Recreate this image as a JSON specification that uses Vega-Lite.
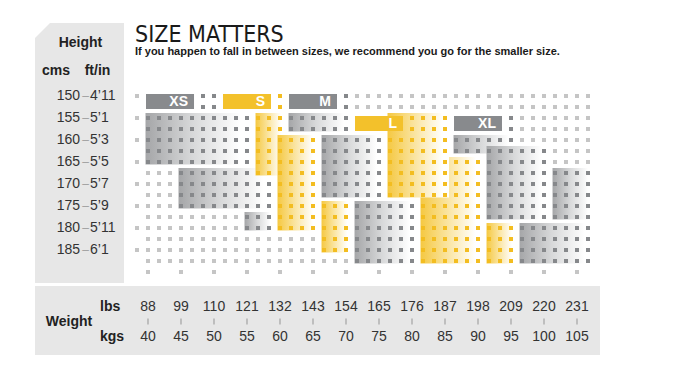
{
"$schema": "https://vega.github.io/schema/vega-lite/v6.json",
"width": 699, "height": 389,
"autosize": {"type": "fit", "contains": "padding"},
"padding": 0,
"background": "#ffffff",
"config": {"view": {"stroke": null}, "font": "Liberation Sans"},
"resolve": {"scale": {"color": "independent"}},
"datasets": {
"one": [{"k": 1}],
"regions": [
{"s":"XS","t":"g","w":40,"w2":55,"h":155,"h2":165},
{"s":"XS","t":"g","w":45,"w2":58.33,"h":167.5,"h2":175},
{"s":"XS","t":"g","w":55,"w2":58.33,"h":177.5,"h2":180},
{"s":"M","t":"g","w":61.67,"w2":70,"h":155,"h2":157.5},
{"s":"M","t":"g","w":66.67,"w2":75,"h":160,"h2":172.5},
{"s":"M","t":"g","w":71.67,"w2":80,"h":175,"h2":187.5},
{"s":"XL","t":"g","w":86.67,"w2":95,"h":160,"h2":162.5},
{"s":"XL","t":"g","w":91.67,"w2":100,"h":162.5,"h2":177.5},
{"s":"XL","t":"g","w":101.67,"w2":106.67,"h":167.5,"h2":177.5},
{"s":"XL","t":"g","w":96.67,"w2":106.67,"h":180,"h2":187.5},
{"s":"L","t":"y","w":81.67,"w2":90,"h":165,"h2":187.5},
{"s":"S","t":"y","w":56.67,"w2":60,"h":155,"h2":167.5},
{"s":"S","t":"y","w":60,"w2":65,"h":160,"h2":180},
{"s":"S","t":"y","w":66.67,"w2":70,"h":175,"h2":185},
{"s":"L","t":"y","w":76.67,"w2":85,"h":155,"h2":172.5},
{"s":"L","t":"y","w":91.67,"w2":95,"h":180,"h2":187.5}
],
"bars": [
{"s":"XS","t":"g","w":40,"w2":46.67,"h":150,"h2":152.5},
{"s":"S","t":"y","w":51.67,"w2":58.33,"h":150,"h2":152.5},
{"s":"M","t":"g","w":61.67,"w2":68.33,"h":150,"h2":152.5},
{"s":"L","t":"y","w":71.67,"w2":78.33,"h":155,"h2":157.5},
{"s":"XL","t":"g","w":86.67,"w2":93.33,"h":155,"h2":157.5}
],
"heights": [
{"h":150,"ft":"4’11"},{"h":155,"ft":"5’1"},{"h":160,"ft":"5’3"},{"h":165,"ft":"5’5"},
{"h":170,"ft":"5’7"},{"h":175,"ft":"5’9"},{"h":180,"ft":"5’11"},{"h":185,"ft":"6’1"}
],
"weights": [
{"w":40,"lbs":88},{"w":45,"lbs":99},{"w":50,"lbs":110},{"w":55,"lbs":121},{"w":60,"lbs":132},
{"w":65,"lbs":143},{"w":70,"lbs":154},{"w":75,"lbs":165},{"w":80,"lbs":176},{"w":85,"lbs":187},
{"w":90,"lbs":198},{"w":95,"lbs":209},{"w":100,"lbs":220},{"w":105,"lbs":231}
],
"dots": [
{"w":40,"h":150,"s":"XS"},{"w":41.67,"h":150,"s":"XS"},{"w":43.33,"h":150,"s":"XS"},{"w":45,"h":150,"s":"XS"},{"w":46.67,"h":150,"s":"XS"},{"w":48.33,"h":150,"s":"XS"},{"w":50,"h":150,"s":"XS"},
{"w":51.67,"h":150,"s":"S"},{"w":53.33,"h":150,"s":"S"},{"w":55,"h":150,"s":"S"},{"w":56.67,"h":150,"s":"S"},{"w":58.33,"h":150,"s":"S"},{"w":60,"h":150,"s":"S"},
{"w":61.67,"h":150,"s":"M"},{"w":63.33,"h":150,"s":"M"},{"w":65,"h":150,"s":"M"},{"w":66.67,"h":150,"s":"M"},{"w":68.33,"h":150,"s":"M"},{"w":70,"h":150,"s":"M"},
{"w":71.67,"h":150,"s":"-"},{"w":73.33,"h":150,"s":"-"},{"w":75,"h":150,"s":"-"},{"w":76.67,"h":150,"s":"-"},{"w":78.33,"h":150,"s":"-"},{"w":80,"h":150,"s":"-"},{"w":81.67,"h":150,"s":"-"},{"w":83.33,"h":150,"s":"-"},{"w":85,"h":150,"s":"-"},{"w":86.67,"h":150,"s":"-"},{"w":88.33,"h":150,"s":"-"},{"w":90,"h":150,"s":"-"},{"w":91.67,"h":150,"s":"-"},{"w":93.33,"h":150,"s":"-"},{"w":95,"h":150,"s":"-"},{"w":96.67,"h":150,"s":"-"},{"w":98.33,"h":150,"s":"-"},{"w":100,"h":150,"s":"-"},{"w":101.67,"h":150,"s":"-"},{"w":103.33,"h":150,"s":"-"},{"w":105,"h":150,"s":"-"},{"w":106.67,"h":150,"s":"-"},
{"w":40,"h":152.5,"s":"XS"},{"w":41.67,"h":152.5,"s":"XS"},{"w":43.33,"h":152.5,"s":"XS"},{"w":45,"h":152.5,"s":"XS"},{"w":46.67,"h":152.5,"s":"XS"},{"w":48.33,"h":152.5,"s":"XS"},{"w":50,"h":152.5,"s":"XS"},
{"w":51.67,"h":152.5,"s":"S"},{"w":53.33,"h":152.5,"s":"S"},{"w":55,"h":152.5,"s":"S"},{"w":56.67,"h":152.5,"s":"S"},{"w":58.33,"h":152.5,"s":"S"},{"w":60,"h":152.5,"s":"S"},
{"w":61.67,"h":152.5,"s":"M"},{"w":63.33,"h":152.5,"s":"M"},{"w":65,"h":152.5,"s":"M"},{"w":66.67,"h":152.5,"s":"M"},{"w":68.33,"h":152.5,"s":"M"},{"w":70,"h":152.5,"s":"M"},
{"w":71.67,"h":152.5,"s":"-"},{"w":73.33,"h":152.5,"s":"-"},{"w":75,"h":152.5,"s":"-"},{"w":76.67,"h":152.5,"s":"-"},{"w":78.33,"h":152.5,"s":"-"},{"w":80,"h":152.5,"s":"-"},{"w":81.67,"h":152.5,"s":"-"},{"w":83.33,"h":152.5,"s":"-"},{"w":85,"h":152.5,"s":"-"},{"w":86.67,"h":152.5,"s":"-"},{"w":88.33,"h":152.5,"s":"-"},{"w":90,"h":152.5,"s":"-"},{"w":91.67,"h":152.5,"s":"-"},{"w":93.33,"h":152.5,"s":"-"},{"w":95,"h":152.5,"s":"-"},{"w":96.67,"h":152.5,"s":"-"},{"w":98.33,"h":152.5,"s":"-"},{"w":100,"h":152.5,"s":"-"},{"w":101.67,"h":152.5,"s":"-"},{"w":103.33,"h":152.5,"s":"-"},{"w":105,"h":152.5,"s":"-"},{"w":106.67,"h":152.5,"s":"-"},
{"w":40,"h":155,"s":"XS"},{"w":41.67,"h":155,"s":"XS"},{"w":43.33,"h":155,"s":"XS"},{"w":45,"h":155,"s":"XS"},{"w":46.67,"h":155,"s":"XS"},{"w":48.33,"h":155,"s":"XS"},{"w":50,"h":155,"s":"XS"},{"w":51.67,"h":155,"s":"XS"},{"w":53.33,"h":155,"s":"XS"},{"w":55,"h":155,"s":"XS"},
{"w":56.67,"h":155,"s":"S"},{"w":58.33,"h":155,"s":"S"},{"w":60,"h":155,"s":"S"},
{"w":61.67,"h":155,"s":"M"},{"w":63.33,"h":155,"s":"M"},{"w":65,"h":155,"s":"M"},{"w":66.67,"h":155,"s":"M"},{"w":68.33,"h":155,"s":"M"},{"w":70,"h":155,"s":"M"},
{"w":71.67,"h":155,"s":"L"},{"w":73.33,"h":155,"s":"L"},{"w":75,"h":155,"s":"L"},{"w":76.67,"h":155,"s":"L"},{"w":78.33,"h":155,"s":"L"},{"w":80,"h":155,"s":"L"},{"w":81.67,"h":155,"s":"L"},{"w":83.33,"h":155,"s":"L"},{"w":85,"h":155,"s":"L"},
{"w":86.67,"h":155,"s":"XL"},{"w":88.33,"h":155,"s":"XL"},{"w":90,"h":155,"s":"XL"},{"w":91.67,"h":155,"s":"XL"},{"w":93.33,"h":155,"s":"XL"},{"w":95,"h":155,"s":"XL"},
{"w":96.67,"h":155,"s":"-"},{"w":98.33,"h":155,"s":"-"},{"w":100,"h":155,"s":"-"},{"w":101.67,"h":155,"s":"-"},{"w":103.33,"h":155,"s":"-"},{"w":105,"h":155,"s":"-"},{"w":106.67,"h":155,"s":"-"},
{"w":40,"h":157.5,"s":"XS"},{"w":41.67,"h":157.5,"s":"XS"},{"w":43.33,"h":157.5,"s":"XS"},{"w":45,"h":157.5,"s":"XS"},{"w":46.67,"h":157.5,"s":"XS"},{"w":48.33,"h":157.5,"s":"XS"},{"w":50,"h":157.5,"s":"XS"},{"w":51.67,"h":157.5,"s":"XS"},{"w":53.33,"h":157.5,"s":"XS"},{"w":55,"h":157.5,"s":"XS"},
{"w":56.67,"h":157.5,"s":"S"},{"w":58.33,"h":157.5,"s":"S"},{"w":60,"h":157.5,"s":"S"},
{"w":61.67,"h":157.5,"s":"M"},{"w":63.33,"h":157.5,"s":"M"},{"w":65,"h":157.5,"s":"M"},{"w":66.67,"h":157.5,"s":"M"},{"w":68.33,"h":157.5,"s":"M"},{"w":70,"h":157.5,"s":"M"},
{"w":71.67,"h":157.5,"s":"L"},{"w":73.33,"h":157.5,"s":"L"},{"w":75,"h":157.5,"s":"L"},{"w":76.67,"h":157.5,"s":"L"},{"w":78.33,"h":157.5,"s":"L"},{"w":80,"h":157.5,"s":"L"},{"w":81.67,"h":157.5,"s":"L"},{"w":83.33,"h":157.5,"s":"L"},{"w":85,"h":157.5,"s":"L"},
{"w":86.67,"h":157.5,"s":"XL"},{"w":88.33,"h":157.5,"s":"XL"},{"w":90,"h":157.5,"s":"XL"},{"w":91.67,"h":157.5,"s":"XL"},{"w":93.33,"h":157.5,"s":"XL"},{"w":95,"h":157.5,"s":"XL"},
{"w":96.67,"h":157.5,"s":"-"},{"w":98.33,"h":157.5,"s":"-"},{"w":100,"h":157.5,"s":"-"},{"w":101.67,"h":157.5,"s":"-"},{"w":103.33,"h":157.5,"s":"-"},{"w":105,"h":157.5,"s":"-"},{"w":106.67,"h":157.5,"s":"-"},
{"w":40,"h":160,"s":"XS"},{"w":41.67,"h":160,"s":"XS"},{"w":43.33,"h":160,"s":"XS"},{"w":45,"h":160,"s":"XS"},{"w":46.67,"h":160,"s":"XS"},{"w":48.33,"h":160,"s":"XS"},{"w":50,"h":160,"s":"XS"},{"w":51.67,"h":160,"s":"XS"},{"w":53.33,"h":160,"s":"XS"},{"w":55,"h":160,"s":"XS"},
{"w":56.67,"h":160,"s":"S"},{"w":58.33,"h":160,"s":"S"},{"w":60,"h":160,"s":"S"},{"w":61.67,"h":160,"s":"S"},{"w":63.33,"h":160,"s":"S"},{"w":65,"h":160,"s":"S"},
{"w":66.67,"h":160,"s":"M"},{"w":68.33,"h":160,"s":"M"},{"w":70,"h":160,"s":"M"},{"w":71.67,"h":160,"s":"M"},{"w":73.33,"h":160,"s":"M"},{"w":75,"h":160,"s":"M"},
{"w":76.67,"h":160,"s":"L"},{"w":78.33,"h":160,"s":"L"},{"w":80,"h":160,"s":"L"},{"w":81.67,"h":160,"s":"L"},{"w":83.33,"h":160,"s":"L"},{"w":85,"h":160,"s":"L"},
{"w":86.67,"h":160,"s":"XL"},{"w":88.33,"h":160,"s":"XL"},{"w":90,"h":160,"s":"XL"},{"w":91.67,"h":160,"s":"XL"},{"w":93.33,"h":160,"s":"XL"},{"w":95,"h":160,"s":"XL"},
{"w":96.67,"h":160,"s":"-"},{"w":98.33,"h":160,"s":"-"},{"w":100,"h":160,"s":"-"},{"w":101.67,"h":160,"s":"-"},{"w":103.33,"h":160,"s":"-"},{"w":105,"h":160,"s":"-"},{"w":106.67,"h":160,"s":"-"},
{"w":40,"h":162.5,"s":"XS"},{"w":41.67,"h":162.5,"s":"XS"},{"w":43.33,"h":162.5,"s":"XS"},{"w":45,"h":162.5,"s":"XS"},{"w":46.67,"h":162.5,"s":"XS"},{"w":48.33,"h":162.5,"s":"XS"},{"w":50,"h":162.5,"s":"XS"},{"w":51.67,"h":162.5,"s":"XS"},{"w":53.33,"h":162.5,"s":"XS"},{"w":55,"h":162.5,"s":"XS"},
{"w":56.67,"h":162.5,"s":"S"},{"w":58.33,"h":162.5,"s":"S"},{"w":60,"h":162.5,"s":"S"},{"w":61.67,"h":162.5,"s":"S"},{"w":63.33,"h":162.5,"s":"S"},{"w":65,"h":162.5,"s":"S"},
{"w":66.67,"h":162.5,"s":"M"},{"w":68.33,"h":162.5,"s":"M"},{"w":70,"h":162.5,"s":"M"},{"w":71.67,"h":162.5,"s":"M"},{"w":73.33,"h":162.5,"s":"M"},{"w":75,"h":162.5,"s":"M"},
{"w":76.67,"h":162.5,"s":"L"},{"w":78.33,"h":162.5,"s":"L"},{"w":80,"h":162.5,"s":"L"},{"w":81.67,"h":162.5,"s":"L"},{"w":83.33,"h":162.5,"s":"L"},{"w":85,"h":162.5,"s":"L"},
{"w":86.67,"h":162.5,"s":"XL"},{"w":88.33,"h":162.5,"s":"XL"},{"w":90,"h":162.5,"s":"XL"},{"w":91.67,"h":162.5,"s":"XL"},{"w":93.33,"h":162.5,"s":"XL"},{"w":95,"h":162.5,"s":"XL"},{"w":96.67,"h":162.5,"s":"XL"},{"w":98.33,"h":162.5,"s":"XL"},{"w":100,"h":162.5,"s":"XL"},
{"w":101.67,"h":162.5,"s":"-"},{"w":103.33,"h":162.5,"s":"-"},{"w":105,"h":162.5,"s":"-"},{"w":106.67,"h":162.5,"s":"-"},
{"w":40,"h":165,"s":"XS"},{"w":41.67,"h":165,"s":"XS"},{"w":43.33,"h":165,"s":"XS"},{"w":45,"h":165,"s":"XS"},{"w":46.67,"h":165,"s":"XS"},{"w":48.33,"h":165,"s":"XS"},{"w":50,"h":165,"s":"XS"},{"w":51.67,"h":165,"s":"XS"},{"w":53.33,"h":165,"s":"XS"},{"w":55,"h":165,"s":"XS"},
{"w":56.67,"h":165,"s":"S"},{"w":58.33,"h":165,"s":"S"},{"w":60,"h":165,"s":"S"},{"w":61.67,"h":165,"s":"S"},{"w":63.33,"h":165,"s":"S"},{"w":65,"h":165,"s":"S"},
{"w":66.67,"h":165,"s":"M"},{"w":68.33,"h":165,"s":"M"},{"w":70,"h":165,"s":"M"},{"w":71.67,"h":165,"s":"M"},{"w":73.33,"h":165,"s":"M"},{"w":75,"h":165,"s":"M"},
{"w":76.67,"h":165,"s":"L"},{"w":78.33,"h":165,"s":"L"},{"w":80,"h":165,"s":"L"},{"w":81.67,"h":165,"s":"L"},{"w":83.33,"h":165,"s":"L"},{"w":85,"h":165,"s":"L"},{"w":86.67,"h":165,"s":"L"},{"w":88.33,"h":165,"s":"L"},{"w":90,"h":165,"s":"L"},
{"w":91.67,"h":165,"s":"XL"},{"w":93.33,"h":165,"s":"XL"},{"w":95,"h":165,"s":"XL"},{"w":96.67,"h":165,"s":"XL"},{"w":98.33,"h":165,"s":"XL"},{"w":100,"h":165,"s":"XL"},
{"w":101.67,"h":165,"s":"-"},{"w":103.33,"h":165,"s":"-"},{"w":105,"h":165,"s":"-"},{"w":106.67,"h":165,"s":"-"},
{"w":40,"h":167.5,"s":"-"},{"w":41.67,"h":167.5,"s":"-"},{"w":43.33,"h":167.5,"s":"-"},
{"w":45,"h":167.5,"s":"XS"},{"w":46.67,"h":167.5,"s":"XS"},{"w":48.33,"h":167.5,"s":"XS"},{"w":50,"h":167.5,"s":"XS"},{"w":51.67,"h":167.5,"s":"XS"},{"w":53.33,"h":167.5,"s":"XS"},{"w":55,"h":167.5,"s":"XS"},
{"w":56.67,"h":167.5,"s":"S"},{"w":58.33,"h":167.5,"s":"S"},{"w":60,"h":167.5,"s":"S"},{"w":61.67,"h":167.5,"s":"S"},{"w":63.33,"h":167.5,"s":"S"},{"w":65,"h":167.5,"s":"S"},
{"w":66.67,"h":167.5,"s":"M"},{"w":68.33,"h":167.5,"s":"M"},{"w":70,"h":167.5,"s":"M"},{"w":71.67,"h":167.5,"s":"M"},{"w":73.33,"h":167.5,"s":"M"},{"w":75,"h":167.5,"s":"M"},
{"w":76.67,"h":167.5,"s":"L"},{"w":78.33,"h":167.5,"s":"L"},{"w":80,"h":167.5,"s":"L"},{"w":81.67,"h":167.5,"s":"L"},{"w":83.33,"h":167.5,"s":"L"},{"w":85,"h":167.5,"s":"L"},{"w":86.67,"h":167.5,"s":"L"},{"w":88.33,"h":167.5,"s":"L"},{"w":90,"h":167.5,"s":"L"},
{"w":91.67,"h":167.5,"s":"XL"},{"w":93.33,"h":167.5,"s":"XL"},{"w":95,"h":167.5,"s":"XL"},{"w":96.67,"h":167.5,"s":"XL"},{"w":98.33,"h":167.5,"s":"XL"},{"w":100,"h":167.5,"s":"XL"},{"w":101.67,"h":167.5,"s":"XL"},{"w":103.33,"h":167.5,"s":"XL"},{"w":105,"h":167.5,"s":"XL"},{"w":106.67,"h":167.5,"s":"XL"},
{"w":40,"h":170,"s":"-"},{"w":41.67,"h":170,"s":"-"},{"w":43.33,"h":170,"s":"-"},
{"w":45,"h":170,"s":"XS"},{"w":46.67,"h":170,"s":"XS"},{"w":48.33,"h":170,"s":"XS"},{"w":50,"h":170,"s":"XS"},{"w":51.67,"h":170,"s":"XS"},{"w":53.33,"h":170,"s":"XS"},{"w":55,"h":170,"s":"XS"},{"w":56.67,"h":170,"s":"XS"},{"w":58.33,"h":170,"s":"XS"},
{"w":60,"h":170,"s":"S"},{"w":61.67,"h":170,"s":"S"},{"w":63.33,"h":170,"s":"S"},{"w":65,"h":170,"s":"S"},
{"w":66.67,"h":170,"s":"M"},{"w":68.33,"h":170,"s":"M"},{"w":70,"h":170,"s":"M"},{"w":71.67,"h":170,"s":"M"},{"w":73.33,"h":170,"s":"M"},{"w":75,"h":170,"s":"M"},
{"w":76.67,"h":170,"s":"L"},{"w":78.33,"h":170,"s":"L"},{"w":80,"h":170,"s":"L"},{"w":81.67,"h":170,"s":"L"},{"w":83.33,"h":170,"s":"L"},{"w":85,"h":170,"s":"L"},{"w":86.67,"h":170,"s":"L"},{"w":88.33,"h":170,"s":"L"},{"w":90,"h":170,"s":"L"},
{"w":91.67,"h":170,"s":"XL"},{"w":93.33,"h":170,"s":"XL"},{"w":95,"h":170,"s":"XL"},{"w":96.67,"h":170,"s":"XL"},{"w":98.33,"h":170,"s":"XL"},{"w":100,"h":170,"s":"XL"},{"w":101.67,"h":170,"s":"XL"},{"w":103.33,"h":170,"s":"XL"},{"w":105,"h":170,"s":"XL"},{"w":106.67,"h":170,"s":"XL"},
{"w":40,"h":172.5,"s":"-"},{"w":41.67,"h":172.5,"s":"-"},{"w":43.33,"h":172.5,"s":"-"},
{"w":45,"h":172.5,"s":"XS"},{"w":46.67,"h":172.5,"s":"XS"},{"w":48.33,"h":172.5,"s":"XS"},{"w":50,"h":172.5,"s":"XS"},{"w":51.67,"h":172.5,"s":"XS"},{"w":53.33,"h":172.5,"s":"XS"},{"w":55,"h":172.5,"s":"XS"},{"w":56.67,"h":172.5,"s":"XS"},{"w":58.33,"h":172.5,"s":"XS"},
{"w":60,"h":172.5,"s":"S"},{"w":61.67,"h":172.5,"s":"S"},{"w":63.33,"h":172.5,"s":"S"},{"w":65,"h":172.5,"s":"S"},
{"w":66.67,"h":172.5,"s":"M"},{"w":68.33,"h":172.5,"s":"M"},{"w":70,"h":172.5,"s":"M"},{"w":71.67,"h":172.5,"s":"M"},{"w":73.33,"h":172.5,"s":"M"},{"w":75,"h":172.5,"s":"M"},
{"w":76.67,"h":172.5,"s":"L"},{"w":78.33,"h":172.5,"s":"L"},{"w":80,"h":172.5,"s":"L"},{"w":81.67,"h":172.5,"s":"L"},{"w":83.33,"h":172.5,"s":"L"},{"w":85,"h":172.5,"s":"L"},{"w":86.67,"h":172.5,"s":"L"},{"w":88.33,"h":172.5,"s":"L"},{"w":90,"h":172.5,"s":"L"},
{"w":91.67,"h":172.5,"s":"XL"},{"w":93.33,"h":172.5,"s":"XL"},{"w":95,"h":172.5,"s":"XL"},{"w":96.67,"h":172.5,"s":"XL"},{"w":98.33,"h":172.5,"s":"XL"},{"w":100,"h":172.5,"s":"XL"},{"w":101.67,"h":172.5,"s":"XL"},{"w":103.33,"h":172.5,"s":"XL"},{"w":105,"h":172.5,"s":"XL"},{"w":106.67,"h":172.5,"s":"XL"},
{"w":40,"h":175,"s":"-"},{"w":41.67,"h":175,"s":"-"},{"w":43.33,"h":175,"s":"-"},
{"w":45,"h":175,"s":"XS"},{"w":46.67,"h":175,"s":"XS"},{"w":48.33,"h":175,"s":"XS"},{"w":50,"h":175,"s":"XS"},{"w":51.67,"h":175,"s":"XS"},{"w":53.33,"h":175,"s":"XS"},{"w":55,"h":175,"s":"XS"},{"w":56.67,"h":175,"s":"XS"},{"w":58.33,"h":175,"s":"XS"},
{"w":60,"h":175,"s":"S"},{"w":61.67,"h":175,"s":"S"},{"w":63.33,"h":175,"s":"S"},{"w":65,"h":175,"s":"S"},{"w":66.67,"h":175,"s":"S"},{"w":68.33,"h":175,"s":"S"},{"w":70,"h":175,"s":"S"},
{"w":71.67,"h":175,"s":"M"},{"w":73.33,"h":175,"s":"M"},{"w":75,"h":175,"s":"M"},{"w":76.67,"h":175,"s":"M"},{"w":78.33,"h":175,"s":"M"},{"w":80,"h":175,"s":"M"},
{"w":81.67,"h":175,"s":"L"},{"w":83.33,"h":175,"s":"L"},{"w":85,"h":175,"s":"L"},{"w":86.67,"h":175,"s":"L"},{"w":88.33,"h":175,"s":"L"},{"w":90,"h":175,"s":"L"},
{"w":91.67,"h":175,"s":"XL"},{"w":93.33,"h":175,"s":"XL"},{"w":95,"h":175,"s":"XL"},{"w":96.67,"h":175,"s":"XL"},{"w":98.33,"h":175,"s":"XL"},{"w":100,"h":175,"s":"XL"},{"w":101.67,"h":175,"s":"XL"},{"w":103.33,"h":175,"s":"XL"},{"w":105,"h":175,"s":"XL"},{"w":106.67,"h":175,"s":"XL"},
{"w":40,"h":177.5,"s":"-"},{"w":41.67,"h":177.5,"s":"-"},{"w":43.33,"h":177.5,"s":"-"},{"w":45,"h":177.5,"s":"-"},{"w":46.67,"h":177.5,"s":"-"},{"w":48.33,"h":177.5,"s":"-"},{"w":50,"h":177.5,"s":"-"},{"w":51.67,"h":177.5,"s":"-"},{"w":53.33,"h":177.5,"s":"-"},
{"w":55,"h":177.5,"s":"XS"},{"w":56.67,"h":177.5,"s":"XS"},{"w":58.33,"h":177.5,"s":"XS"},
{"w":60,"h":177.5,"s":"S"},{"w":61.67,"h":177.5,"s":"S"},{"w":63.33,"h":177.5,"s":"S"},{"w":65,"h":177.5,"s":"S"},{"w":66.67,"h":177.5,"s":"S"},{"w":68.33,"h":177.5,"s":"S"},{"w":70,"h":177.5,"s":"S"},
{"w":71.67,"h":177.5,"s":"M"},{"w":73.33,"h":177.5,"s":"M"},{"w":75,"h":177.5,"s":"M"},{"w":76.67,"h":177.5,"s":"M"},{"w":78.33,"h":177.5,"s":"M"},{"w":80,"h":177.5,"s":"M"},
{"w":81.67,"h":177.5,"s":"L"},{"w":83.33,"h":177.5,"s":"L"},{"w":85,"h":177.5,"s":"L"},{"w":86.67,"h":177.5,"s":"L"},{"w":88.33,"h":177.5,"s":"L"},{"w":90,"h":177.5,"s":"L"},
{"w":91.67,"h":177.5,"s":"XL"},{"w":93.33,"h":177.5,"s":"XL"},{"w":95,"h":177.5,"s":"XL"},{"w":96.67,"h":177.5,"s":"XL"},{"w":98.33,"h":177.5,"s":"XL"},{"w":100,"h":177.5,"s":"XL"},{"w":101.67,"h":177.5,"s":"XL"},{"w":103.33,"h":177.5,"s":"XL"},{"w":105,"h":177.5,"s":"XL"},{"w":106.67,"h":177.5,"s":"XL"},
{"w":40,"h":180,"s":"-"},{"w":41.67,"h":180,"s":"-"},{"w":43.33,"h":180,"s":"-"},{"w":45,"h":180,"s":"-"},{"w":46.67,"h":180,"s":"-"},{"w":48.33,"h":180,"s":"-"},{"w":50,"h":180,"s":"-"},{"w":51.67,"h":180,"s":"-"},{"w":53.33,"h":180,"s":"-"},
{"w":55,"h":180,"s":"XS"},{"w":56.67,"h":180,"s":"XS"},{"w":58.33,"h":180,"s":"XS"},
{"w":60,"h":180,"s":"S"},{"w":61.67,"h":180,"s":"S"},{"w":63.33,"h":180,"s":"S"},{"w":65,"h":180,"s":"S"},{"w":66.67,"h":180,"s":"S"},{"w":68.33,"h":180,"s":"S"},{"w":70,"h":180,"s":"S"},
{"w":71.67,"h":180,"s":"M"},{"w":73.33,"h":180,"s":"M"},{"w":75,"h":180,"s":"M"},{"w":76.67,"h":180,"s":"M"},{"w":78.33,"h":180,"s":"M"},{"w":80,"h":180,"s":"M"},
{"w":81.67,"h":180,"s":"L"},{"w":83.33,"h":180,"s":"L"},{"w":85,"h":180,"s":"L"},{"w":86.67,"h":180,"s":"L"},{"w":88.33,"h":180,"s":"L"},{"w":90,"h":180,"s":"L"},{"w":91.67,"h":180,"s":"L"},{"w":93.33,"h":180,"s":"L"},{"w":95,"h":180,"s":"L"},
{"w":96.67,"h":180,"s":"XL"},{"w":98.33,"h":180,"s":"XL"},{"w":100,"h":180,"s":"XL"},{"w":101.67,"h":180,"s":"XL"},{"w":103.33,"h":180,"s":"XL"},{"w":105,"h":180,"s":"XL"},{"w":106.67,"h":180,"s":"XL"},
{"w":40,"h":182.5,"s":"-"},{"w":41.67,"h":182.5,"s":"-"},{"w":43.33,"h":182.5,"s":"-"},{"w":45,"h":182.5,"s":"-"},{"w":46.67,"h":182.5,"s":"-"},{"w":48.33,"h":182.5,"s":"-"},{"w":50,"h":182.5,"s":"-"},{"w":51.67,"h":182.5,"s":"-"},{"w":53.33,"h":182.5,"s":"-"},{"w":55,"h":182.5,"s":"-"},{"w":56.67,"h":182.5,"s":"-"},{"w":58.33,"h":182.5,"s":"-"},{"w":60,"h":182.5,"s":"-"},{"w":61.67,"h":182.5,"s":"-"},{"w":63.33,"h":182.5,"s":"-"},{"w":65,"h":182.5,"s":"-"},
{"w":66.67,"h":182.5,"s":"S"},{"w":68.33,"h":182.5,"s":"S"},{"w":70,"h":182.5,"s":"S"},
{"w":71.67,"h":182.5,"s":"M"},{"w":73.33,"h":182.5,"s":"M"},{"w":75,"h":182.5,"s":"M"},{"w":76.67,"h":182.5,"s":"M"},{"w":78.33,"h":182.5,"s":"M"},{"w":80,"h":182.5,"s":"M"},
{"w":81.67,"h":182.5,"s":"L"},{"w":83.33,"h":182.5,"s":"L"},{"w":85,"h":182.5,"s":"L"},{"w":86.67,"h":182.5,"s":"L"},{"w":88.33,"h":182.5,"s":"L"},{"w":90,"h":182.5,"s":"L"},{"w":91.67,"h":182.5,"s":"L"},{"w":93.33,"h":182.5,"s":"L"},{"w":95,"h":182.5,"s":"L"},
{"w":96.67,"h":182.5,"s":"XL"},{"w":98.33,"h":182.5,"s":"XL"},{"w":100,"h":182.5,"s":"XL"},{"w":101.67,"h":182.5,"s":"XL"},{"w":103.33,"h":182.5,"s":"XL"},{"w":105,"h":182.5,"s":"XL"},{"w":106.67,"h":182.5,"s":"XL"},
{"w":40,"h":185,"s":"-"},{"w":41.67,"h":185,"s":"-"},{"w":43.33,"h":185,"s":"-"},{"w":45,"h":185,"s":"-"},{"w":46.67,"h":185,"s":"-"},{"w":48.33,"h":185,"s":"-"},{"w":50,"h":185,"s":"-"},{"w":51.67,"h":185,"s":"-"},{"w":53.33,"h":185,"s":"-"},{"w":55,"h":185,"s":"-"},{"w":56.67,"h":185,"s":"-"},{"w":58.33,"h":185,"s":"-"},{"w":60,"h":185,"s":"-"},{"w":61.67,"h":185,"s":"-"},{"w":63.33,"h":185,"s":"-"},{"w":65,"h":185,"s":"-"},
{"w":66.67,"h":185,"s":"S"},{"w":68.33,"h":185,"s":"S"},{"w":70,"h":185,"s":"S"},
{"w":71.67,"h":185,"s":"M"},{"w":73.33,"h":185,"s":"M"},{"w":75,"h":185,"s":"M"},{"w":76.67,"h":185,"s":"M"},{"w":78.33,"h":185,"s":"M"},{"w":80,"h":185,"s":"M"},
{"w":81.67,"h":185,"s":"L"},{"w":83.33,"h":185,"s":"L"},{"w":85,"h":185,"s":"L"},{"w":86.67,"h":185,"s":"L"},{"w":88.33,"h":185,"s":"L"},{"w":90,"h":185,"s":"L"},{"w":91.67,"h":185,"s":"L"},{"w":93.33,"h":185,"s":"L"},{"w":95,"h":185,"s":"L"},
{"w":96.67,"h":185,"s":"XL"},{"w":98.33,"h":185,"s":"XL"},{"w":100,"h":185,"s":"XL"},{"w":101.67,"h":185,"s":"XL"},{"w":103.33,"h":185,"s":"XL"},{"w":105,"h":185,"s":"XL"},{"w":106.67,"h":185,"s":"XL"},
{"w":40,"h":187.5,"s":"-"},{"w":41.67,"h":187.5,"s":"-"},{"w":43.33,"h":187.5,"s":"-"},{"w":45,"h":187.5,"s":"-"},{"w":46.67,"h":187.5,"s":"-"},{"w":48.33,"h":187.5,"s":"-"},{"w":50,"h":187.5,"s":"-"},{"w":51.67,"h":187.5,"s":"-"},{"w":53.33,"h":187.5,"s":"-"},{"w":55,"h":187.5,"s":"-"},{"w":56.67,"h":187.5,"s":"-"},{"w":58.33,"h":187.5,"s":"-"},{"w":60,"h":187.5,"s":"-"},{"w":61.67,"h":187.5,"s":"-"},{"w":63.33,"h":187.5,"s":"-"},{"w":65,"h":187.5,"s":"-"},{"w":66.67,"h":187.5,"s":"-"},{"w":68.33,"h":187.5,"s":"-"},{"w":70,"h":187.5,"s":"-"},
{"w":71.67,"h":187.5,"s":"M"},{"w":73.33,"h":187.5,"s":"M"},{"w":75,"h":187.5,"s":"M"},{"w":76.67,"h":187.5,"s":"M"},{"w":78.33,"h":187.5,"s":"M"},{"w":80,"h":187.5,"s":"M"},
{"w":81.67,"h":187.5,"s":"L"},{"w":83.33,"h":187.5,"s":"L"},{"w":85,"h":187.5,"s":"L"},{"w":86.67,"h":187.5,"s":"L"},{"w":88.33,"h":187.5,"s":"L"},{"w":90,"h":187.5,"s":"L"},{"w":91.67,"h":187.5,"s":"L"},{"w":93.33,"h":187.5,"s":"L"},{"w":95,"h":187.5,"s":"L"},
{"w":96.67,"h":187.5,"s":"XL"},{"w":98.33,"h":187.5,"s":"XL"},{"w":100,"h":187.5,"s":"XL"},{"w":101.67,"h":187.5,"s":"XL"},{"w":103.33,"h":187.5,"s":"XL"},{"w":105,"h":187.5,"s":"XL"},{"w":106.67,"h":187.5,"s":"XL"},
{"w":38.33,"h":150,"s":"-"},{"w":38.33,"h":155,"s":"-"},{"w":38.33,"h":160,"s":"-"},{"w":38.33,"h":165,"s":"-"},{"w":38.33,"h":170,"s":"-"},{"w":38.33,"h":175,"s":"-"},{"w":38.33,"h":180,"s":"-"},{"w":38.33,"h":185,"s":"-"},
{"w":40,"h":190,"s":"-"},{"w":45,"h":190,"s":"-"},{"w":50,"h":190,"s":"-"},{"w":55,"h":190,"s":"-"},{"w":60,"h":190,"s":"-"},{"w":65,"h":190,"s":"-"},{"w":70,"h":190,"s":"-"},{"w":75,"h":190,"s":"-"},{"w":80,"h":190,"s":"-"},{"w":85,"h":190,"s":"-"},{"w":90,"h":190,"s":"-"},{"w":95,"h":190,"s":"-"},{"w":100,"h":190,"s":"-"},{"w":105,"h":190,"s":"-"}
]
},
"layer": [
{"data": {"name": "one"}, "mark": {"type": "rect", "fill": "#e7e7e7"},
 "encoding": {"x": {"datum": 22.879, "type": "quantitative", "scale": {"domain": [17.5758, 123.4848], "nice": false, "zero": false}, "axis": null}, "x2": {"datum": 36.364},
  "y": {"datum": 133.409, "type": "quantitative", "scale": {"domain": [128.1818, 216.5909], "nice": false, "zero": false, "reverse": true}, "axis": null}, "y2": {"datum": 192.5}}},
{"data": {"name": "one"}, "mark": {"type": "rect", "fill": "#e7e7e7"},
 "encoding": {"x": {"datum": 22.879, "type": "quantitative", "scale": {"domain": [17.5758, 123.4848], "nice": false, "zero": false}, "axis": null}, "x2": {"datum": 108.485},
  "y": {"datum": 193.182, "type": "quantitative", "scale": {"domain": [128.1818, 216.5909], "nice": false, "zero": false, "reverse": true}, "axis": null}, "y2": {"datum": 208.864}}},
{"data": {"name": "one"}, "mark": {"type": "point", "shape": "M -1 -1 L 1 -1 L -1 1 Z", "size": 225, "filled": true, "fill": "#ffffff", "opacity": 1, "strokeWidth": 0},
 "encoding": {"x": {"datum": 24.015, "type": "quantitative", "scale": {"domain": [17.5758, 123.4848], "nice": false, "zero": false}, "axis": null},
  "y": {"datum": 135.114, "type": "quantitative", "scale": {"domain": [128.1818, 216.5909], "nice": false, "zero": false, "reverse": true}, "axis": null}}},
{"data": {"name": "regions"}, "transform": [{"filter": "datum.t === 'g'"}],
 "mark": {"type": "rect", "xOffset": -2.5, "x2Offset": 4, "yOffset": -5, "y2Offset": 2.5,
  "fill": {"gradient": "linear", "x1": 0, "y1": 0, "x2": 1, "y2": 0, "stops": [{"offset": 0, "color": "#a5a6a8"}, {"offset": 0.45, "color": "#d8d9da"}, {"offset": 0.9, "color": "#ffffff"}]}},
 "encoding": {"x": {"field": "w", "type": "quantitative", "scale": {"domain": [17.5758, 123.4848], "nice": false, "zero": false}, "axis": null}, "x2": {"field": "w2"},
  "y": {"field": "h", "type": "quantitative", "scale": {"domain": [128.1818, 216.5909], "nice": false, "zero": false, "reverse": true}, "axis": null}, "y2": {"field": "h2"}}},
{"data": {"name": "regions"}, "transform": [{"filter": "datum.t === 'y'"}],
 "mark": {"type": "rect", "xOffset": -2.5, "x2Offset": 4, "yOffset": -5, "y2Offset": 2.5,
  "fill": {"gradient": "linear", "x1": 0, "y1": 0, "x2": 1, "y2": 0, "stops": [{"offset": 0, "color": "#f5c841"}, {"offset": 0.45, "color": "#fae5a3"}, {"offset": 0.9, "color": "#ffffff"}]}},
 "encoding": {"x": {"field": "w", "type": "quantitative", "scale": {"domain": [17.5758, 123.4848], "nice": false, "zero": false}, "axis": null}, "x2": {"field": "w2"},
  "y": {"field": "h", "type": "quantitative", "scale": {"domain": [128.1818, 216.5909], "nice": false, "zero": false, "reverse": true}, "axis": null}, "y2": {"field": "h2"}}},
{"data": {"name": "dots"}, "mark": {"type": "square", "size": 16, "opacity": 1},
 "encoding": {"x": {"field": "w", "type": "quantitative", "scale": {"domain": [17.5758, 123.4848], "nice": false, "zero": false}, "axis": null},
  "y": {"field": "h", "type": "quantitative", "scale": {"domain": [128.1818, 216.5909], "nice": false, "zero": false, "reverse": true}, "axis": null},
  "color": {"field": "s", "type": "nominal", "legend": null,
  "scale": {"domain": ["XS", "S", "M", "L", "XL", "-"], "range": ["#86888b", "#f3bd20", "#86888b", "#f3bd20", "#86888b", "#c5c5c5"]}}}},
{"data": {"name": "bars"}, "mark": {"type": "rect", "xOffset": -2, "x2Offset": 2, "yOffset": -2, "y2Offset": 2},
 "encoding": {"x": {"field": "w", "type": "quantitative", "scale": {"domain": [17.5758, 123.4848], "nice": false, "zero": false}, "axis": null}, "x2": {"field": "w2"},
  "y": {"field": "h", "type": "quantitative", "scale": {"domain": [128.1818, 216.5909], "nice": false, "zero": false, "reverse": true}, "axis": null}, "y2": {"field": "h2"},
  "fill": {"field": "t", "type": "nominal", "legend": null, "scale": {"domain": ["g", "y"], "range": ["#888a8d", "#f3c12b"]}}}},
{"data": {"name": "bars"}, "mark": {"type": "text", "align": "right", "baseline": "middle", "dx": -4, "dy": 5.5, "fontSize": 14, "fontWeight": "bold", "fill": "#ffffff"},
 "encoding": {"x": {"field": "w2", "type": "quantitative", "scale": {"domain": [17.5758, 123.4848], "nice": false, "zero": false}, "axis": null},
  "y": {"field": "h", "type": "quantitative", "scale": {"domain": [128.1818, 216.5909], "nice": false, "zero": false, "reverse": true}, "axis": null},
  "text": {"field": "s", "type": "nominal"}}},
{"data": {"name": "one"}, "mark": {"type": "text", "text": "SIZE MATTERS", "align": "left", "baseline": "alphabetic", "font": "DejaVu Sans Condensed, Roboto, sans-serif", "fontSize": 23, "fill": "#1a1a1a"},
 "encoding": {"x": {"datum": 38.03, "type": "quantitative", "scale": {"domain": [17.5758, 123.4848], "nice": false, "zero": false}, "axis": null},
  "y": {"datum": 137.727, "type": "quantitative", "scale": {"domain": [128.1818, 216.5909], "nice": false, "zero": false, "reverse": true}, "axis": null}}},
{"data": {"name": "one"}, "mark": {"type": "text", "text": "If you happen to fall in between sizes, we recommend you go for the smaller size.", "align": "left", "baseline": "alphabetic", "fontSize": 11, "fontWeight": "bold", "fill": "#1a1a1a"},
 "encoding": {"x": {"datum": 38.03, "type": "quantitative", "scale": {"domain": [17.5758, 123.4848], "nice": false, "zero": false}, "axis": null},
  "y": {"datum": 140.682, "type": "quantitative", "scale": {"domain": [128.1818, 216.5909], "nice": false, "zero": false, "reverse": true}, "axis": null}}},
{"data": {"name": "one"}, "mark": {"type": "text", "text": "Height", "align": "center", "baseline": "middle", "fontSize": 14, "fontWeight": "bold", "fill": "#222222"},
 "encoding": {"x": {"datum": 29.773, "type": "quantitative", "scale": {"domain": [17.5758, 123.4848], "nice": false, "zero": false}, "axis": null},
  "y": {"datum": 137.955, "type": "quantitative", "scale": {"domain": [128.1818, 216.5909], "nice": false, "zero": false, "reverse": true}, "axis": null}}},
{"data": {"name": "one"}, "mark": {"type": "text", "text": "cms", "align": "center", "baseline": "middle", "fontSize": 14, "fontWeight": "bold", "fill": "#222222"},
 "encoding": {"x": {"datum": 26.061, "type": "quantitative", "scale": {"domain": [17.5758, 123.4848], "nice": false, "zero": false}, "axis": null},
  "y": {"datum": 144.318, "type": "quantitative", "scale": {"domain": [128.1818, 216.5909], "nice": false, "zero": false, "reverse": true}, "axis": null}}},
{"data": {"name": "one"}, "mark": {"type": "text", "text": "ft/in", "align": "center", "baseline": "middle", "fontSize": 14, "fontWeight": "bold", "fill": "#222222"},
 "encoding": {"x": {"datum": 32.348, "type": "quantitative", "scale": {"domain": [17.5758, 123.4848], "nice": false, "zero": false}, "axis": null},
  "y": {"datum": 144.318, "type": "quantitative", "scale": {"domain": [128.1818, 216.5909], "nice": false, "zero": false, "reverse": true}, "axis": null}}},
{"data": {"name": "heights"}, "mark": {"type": "text", "align": "right", "baseline": "middle", "fontSize": 14, "fill": "#333333"},
 "encoding": {"x": {"datum": 29.697, "type": "quantitative", "scale": {"domain": [17.5758, 123.4848], "nice": false, "zero": false}, "axis": null},
  "y": {"field": "h", "type": "quantitative", "scale": {"domain": [128.1818, 216.5909], "nice": false, "zero": false, "reverse": true}, "axis": null},
  "text": {"field": "h", "type": "quantitative"}}},
{"data": {"name": "heights"}, "mark": {"type": "text", "align": "center", "baseline": "middle", "fontSize": 12, "fill": "#a0a0a0", "text": "–"},
 "encoding": {"x": {"datum": 30.53, "type": "quantitative", "scale": {"domain": [17.5758, 123.4848], "nice": false, "zero": false}, "axis": null},
  "y": {"field": "h", "type": "quantitative", "scale": {"domain": [128.1818, 216.5909], "nice": false, "zero": false, "reverse": true}, "axis": null}}},
{"data": {"name": "heights"}, "mark": {"type": "text", "align": "left", "baseline": "middle", "fontSize": 14, "fill": "#333333"},
 "encoding": {"x": {"datum": 31.212, "type": "quantitative", "scale": {"domain": [17.5758, 123.4848], "nice": false, "zero": false}, "axis": null},
  "y": {"field": "h", "type": "quantitative", "scale": {"domain": [128.1818, 216.5909], "nice": false, "zero": false, "reverse": true}, "axis": null},
  "text": {"field": "ft", "type": "nominal"}}},
{"data": {"name": "one"}, "mark": {"type": "text", "text": "Weight", "align": "center", "baseline": "middle", "fontSize": 14, "fontWeight": "bold", "fill": "#222222"},
 "encoding": {"x": {"datum": 28.03, "type": "quantitative", "scale": {"domain": [17.5758, 123.4848], "nice": false, "zero": false}, "axis": null},
  "y": {"datum": 201.364, "type": "quantitative", "scale": {"domain": [128.1818, 216.5909], "nice": false, "zero": false, "reverse": true}, "axis": null}}},
{"data": {"name": "one"}, "mark": {"type": "text", "text": "lbs", "align": "left", "baseline": "middle", "fontSize": 14, "fontWeight": "bold", "fill": "#222222"},
 "encoding": {"x": {"datum": 32.727, "type": "quantitative", "scale": {"domain": [17.5758, 123.4848], "nice": false, "zero": false}, "axis": null},
  "y": {"datum": 197.955, "type": "quantitative", "scale": {"domain": [128.1818, 216.5909], "nice": false, "zero": false, "reverse": true}, "axis": null}}},
{"data": {"name": "one"}, "mark": {"type": "text", "text": "kgs", "align": "left", "baseline": "middle", "fontSize": 14, "fontWeight": "bold", "fill": "#222222"},
 "encoding": {"x": {"datum": 32.727, "type": "quantitative", "scale": {"domain": [17.5758, 123.4848], "nice": false, "zero": false}, "axis": null},
  "y": {"datum": 204.773, "type": "quantitative", "scale": {"domain": [128.1818, 216.5909], "nice": false, "zero": false, "reverse": true}, "axis": null}}},
{"data": {"name": "weights"}, "mark": {"type": "text", "align": "center", "baseline": "middle", "fontSize": 14, "fill": "#333333"},
 "encoding": {"x": {"field": "w", "type": "quantitative", "scale": {"domain": [17.5758, 123.4848], "nice": false, "zero": false}, "axis": null},
  "y": {"datum": 197.955, "type": "quantitative", "scale": {"domain": [128.1818, 216.5909], "nice": false, "zero": false, "reverse": true}, "axis": null},
  "text": {"field": "lbs", "type": "quantitative"}}},
{"data": {"name": "weights"}, "mark": {"type": "rule", "stroke": "#b0b0b0", "strokeWidth": 1.5},
 "encoding": {"x": {"field": "w", "type": "quantitative", "scale": {"domain": [17.5758, 123.4848], "nice": false, "zero": false}, "axis": null},
  "y": {"datum": 200.568, "type": "quantitative", "scale": {"domain": [128.1818, 216.5909], "nice": false, "zero": false, "reverse": true}, "axis": null}, "y2": {"datum": 201.932}}},
{"data": {"name": "weights"}, "mark": {"type": "text", "align": "center", "baseline": "middle", "fontSize": 14, "fill": "#333333"},
 "encoding": {"x": {"field": "w", "type": "quantitative", "scale": {"domain": [17.5758, 123.4848], "nice": false, "zero": false}, "axis": null},
  "y": {"datum": 204.773, "type": "quantitative", "scale": {"domain": [128.1818, 216.5909], "nice": false, "zero": false, "reverse": true}, "axis": null},
  "text": {"field": "w", "type": "quantitative"}}}
]
}
